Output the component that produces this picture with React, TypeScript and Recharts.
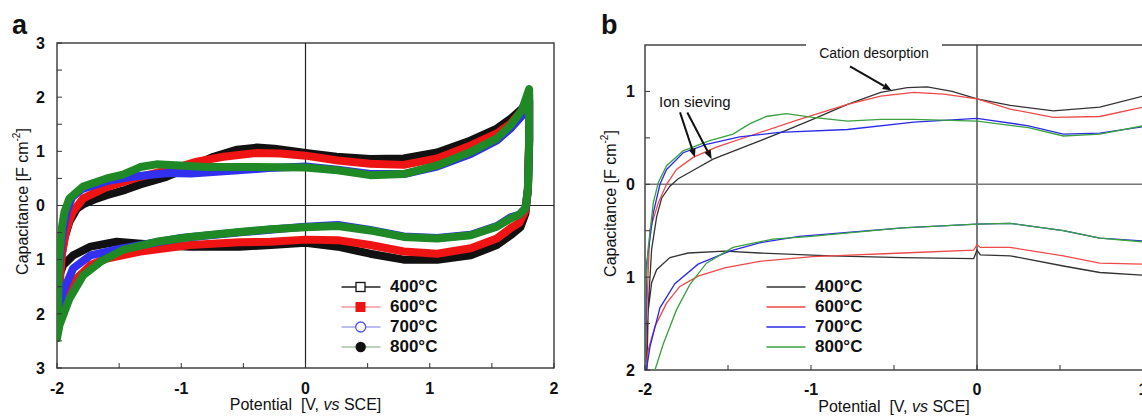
import React from 'react';
import { LineChart, Line, XAxis, YAxis, ReferenceLine, ReferenceArea } from 'recharts';

type Pt = [number, number];

const FONT = '"Liberation Sans", Arial, Helvetica, sans-serif';
const TEMPS = ['400°C', '600°C', '700°C', '800°C'];

// ---- panel a: CV loops (upper branch -> switch at 1.8 V -> lower branch back to -2 V)
const A_400: Pt[] = [
  [-1.99, -1.45], [-1.97, -1.0], [-1.94, -0.6], [-1.9, -0.3], [-1.84, -0.06], [-1.79, 0.02],
  [-1.7, 0.11], [-1.6, 0.19], [-1.45, 0.29], [-1.33, 0.39], [-1.12, 0.53], [-0.93, 0.71],
  [-0.74, 0.9], [-0.55, 1.03], [-0.39, 1.07], [-0.25, 1.05], [-0.1, 1.0], [0, 0.97],
  [0.25, 0.9], [0.52, 0.86], [0.79, 0.87], [1.06, 0.98], [1.33, 1.2], [1.54, 1.42],
  [1.65, 1.6], [1.74, 1.78], [1.8, 1.95],
  [1.8, 1.2], [1.79, 0.3], [1.77, -0.15], [1.73, -0.4], [1.65, -0.55],
  [1.54, -0.73], [1.33, -0.92], [1.06, -1.0], [0.79, -1.0], [0.52, -0.89], [0.26, -0.76],
  [0, -0.69], [-0.28, -0.73], [-0.53, -0.76], [-0.93, -0.76], [-1.2, -0.73], [-1.52, -0.67],
  [-1.73, -0.76], [-1.87, -0.92], [-1.95, -1.1], [-1.99, -1.35], [-2.0, -1.5], [-1.99, -1.45],
];
const A_600: Pt[] = [
  [-2.0, -2.1], [-1.98, -1.5], [-1.96, -0.9], [-1.93, -0.5], [-1.9, -0.27], [-1.87, -0.11],
  [-1.79, 0.13], [-1.6, 0.34], [-1.33, 0.53], [-1.06, 0.68], [-0.875, 0.81], [-0.66, 0.9],
  [-0.39, 0.97], [-0.2, 0.96], [0, 0.92], [0.26, 0.83], [0.52, 0.77], [0.79, 0.75],
  [1.06, 0.87], [1.33, 1.11], [1.54, 1.33], [1.65, 1.51], [1.74, 1.75], [1.8, 2.05],
  [1.8, 1.2], [1.79, 0.3], [1.77, -0.1], [1.72, -0.32], [1.65, -0.42],
  [1.54, -0.61], [1.33, -0.79], [1.06, -0.89], [0.79, -0.85], [0.52, -0.73], [0.26, -0.64],
  [0, -0.63], [-0.28, -0.67], [-0.53, -0.68], [-0.93, -0.73], [-1.33, -0.85], [-1.6, -0.98],
  [-1.73, -1.1], [-1.87, -1.41], [-1.95, -1.84], [-2.0, -2.1],
];
const A_700: Pt[] = [
  [-2.0, -2.05], [-1.99, -1.4], [-1.97, -0.8], [-1.95, -0.45], [-1.92, -0.1], [-1.88, 0.15],
  [-1.8, 0.3], [-1.6, 0.45], [-1.4, 0.53], [-1.1, 0.6], [-0.92, 0.59], [-0.6, 0.64],
  [-0.3, 0.69], [0, 0.72], [0.26, 0.66], [0.52, 0.58], [0.79, 0.58], [1.06, 0.72],
  [1.33, 0.95], [1.54, 1.2], [1.65, 1.42], [1.74, 1.65], [1.8, 1.95],
  [1.8, 1.1], [1.79, 0.3], [1.77, -0.05], [1.72, -0.17], [1.65, -0.22],
  [1.54, -0.38], [1.33, -0.54], [1.06, -0.6], [0.79, -0.57], [0.52, -0.45], [0.26, -0.36],
  [0, -0.39], [-0.5, -0.49], [-1.0, -0.6], [-1.3, -0.72], [-1.5, -0.8], [-1.73, -0.92],
  [-1.87, -1.16], [-1.95, -1.59], [-2.0, -2.05],
];
const A_800: Pt[] = [
  [-2.0, -2.45], [-1.99, -1.6], [-1.98, -0.9], [-1.96, -0.4], [-1.94, -0.12], [-1.9, 0.13],
  [-1.79, 0.35], [-1.6, 0.5], [-1.47, 0.57], [-1.33, 0.71], [-1.2, 0.76], [-1.01, 0.74],
  [-0.8, 0.71], [-0.4, 0.71], [0, 0.7], [0.26, 0.65], [0.52, 0.56], [0.79, 0.58],
  [1.06, 0.74], [1.33, 0.99], [1.54, 1.24], [1.65, 1.48], [1.74, 1.75], [1.8, 2.15],
  [1.8, 1.2], [1.79, 0.3], [1.77, -0.05], [1.72, -0.17], [1.65, -0.24],
  [1.54, -0.39], [1.33, -0.55], [1.06, -0.61], [0.79, -0.58], [0.52, -0.46], [0.26, -0.38],
  [0, -0.4], [-0.28, -0.44], [-0.53, -0.49], [-0.93, -0.58], [-1.2, -0.67], [-1.47, -0.82],
  [-1.65, -1.04], [-1.79, -1.29], [-1.9, -1.72], [-1.98, -2.21], [-2.0, -2.45],
];

// ---- panel b: thin CV loops, axis cut at 1 V
const B_400: Pt[] = [
  [-1.99, -2.1], [-1.98, -1.3], [-1.96, -0.7], [-1.93, -0.35], [-1.9, -0.15], [-1.85, -0.02],
  [-1.8, 0.06], [-1.73, 0.13], [-1.59, 0.27], [-1.39, 0.41], [-1.15, 0.58], [-0.99, 0.7],
  [-0.78, 0.86], [-0.58, 0.99], [-0.42, 1.04], [-0.3, 1.05], [-0.15, 1.0], [0, 0.92],
  [0.2, 0.85], [0.46, 0.79], [0.74, 0.83], [1.0, 0.95],
  [1.0, -0.98], [0.74, -0.95], [0.52, -0.88], [0.2, -0.77], [0.02, -0.76], [0, -0.71],
  [-0.02, -0.8], [-0.45, -0.79], [-0.88, -0.77], [-1.31, -0.74], [-1.52, -0.72], [-1.74, -0.74],
  [-1.85, -0.79], [-1.93, -0.92], [-1.96, -1.06], [-1.98, -1.35], [-1.99, -1.78], [-2.0, -2.1],
];
const B_600: Pt[] = [
  [-2.0, -2.1], [-1.99, -1.4], [-1.98, -0.9], [-1.97, -0.49], [-1.92, -0.2], [-1.87, 0],
  [-1.81, 0.16], [-1.71, 0.29], [-1.57, 0.4], [-1.37, 0.52], [-1.07, 0.7], [-0.78, 0.86],
  [-0.58, 0.95], [-0.38, 0.99], [-0.2, 0.97], [0, 0.92], [0.2, 0.81], [0.46, 0.72],
  [0.74, 0.73], [1.0, 0.83],
  [1.0, -0.86], [0.74, -0.85], [0.52, -0.77], [0.2, -0.68], [0.02, -0.68], [0, -0.65],
  [-0.02, -0.71], [-0.45, -0.74], [-0.99, -0.78], [-1.31, -0.83], [-1.52, -0.9], [-1.68, -0.99],
  [-1.79, -1.1], [-1.87, -1.28], [-1.94, -1.53], [-1.98, -1.78], [-2.0, -2.1],
];
const B_700: Pt[] = [
  [-2.0, -2.1], [-1.99, -0.85], [-1.95, -0.31], [-1.91, 0], [-1.87, 0.16], [-1.77, 0.34],
  [-1.63, 0.43], [-1.43, 0.51], [-1.19, 0.56], [-0.78, 0.59], [-0.38, 0.67], [-0.1, 0.7],
  [0, 0.71], [0.31, 0.63], [0.52, 0.54], [0.74, 0.55], [1.0, 0.62],
  [1.0, -0.61], [0.74, -0.58], [0.52, -0.5], [0.2, -0.42], [0, -0.43], [-0.45, -0.47],
  [-1.07, -0.56], [-1.31, -0.63], [-1.49, -0.72], [-1.68, -0.86], [-1.82, -1.07],
  [-1.91, -1.33], [-1.97, -1.75], [-2.0, -2.1],
];
const B_800: Pt[] = [
  [-2.0, -2.1], [-2.0, -1.2], [-1.98, -0.67], [-1.95, -0.2], [-1.92, 0.02], [-1.87, 0.2],
  [-1.77, 0.36], [-1.61, 0.47], [-1.47, 0.54], [-1.37, 0.65], [-1.27, 0.73], [-1.15, 0.76],
  [-0.99, 0.72], [-0.78, 0.68], [-0.58, 0.7], [-0.38, 0.7], [0, 0.68], [0.31, 0.61],
  [0.52, 0.52], [0.74, 0.54], [1.0, 0.63],
  [1.0, -0.62], [0.74, -0.58], [0.52, -0.5], [0.2, -0.42], [0, -0.43], [-0.45, -0.47],
  [-1.0, -0.56], [-1.23, -0.59], [-1.47, -0.68], [-1.63, -0.85], [-1.73, -1.08],
  [-1.81, -1.35], [-1.89, -1.72], [-1.94, -2.0], [-1.96, -2.15],
];

// ticks every 0.5, labels only on whole numbers
const A_X_TICKS = [-2, -1.5, -1, -0.5, 0, 0.5, 1, 1.5, 2];
const A_Y_TICKS = [-3, -2.5, -2, -1.5, -1, -0.5, 0, 0.5, 1, 1.5, 2, 2.5, 3];
const B_X_TICKS = [-2, -1.5, -1, -0.5, 0, 0.5, 1];
const B_Y_TICKS = [-2, -1.5, -1, -0.5, 0, 0.5, 1];

const A_SERIES = [
  { name: TEMPS[0], pts: A_400, color: '#111111' },
  { name: TEMPS[1], pts: A_600, color: '#ee1414' },
  { name: TEMPS[2], pts: A_700, color: '#3030ee' },
  { name: TEMPS[3], pts: A_800, color: '#1f8a25' },
];
const B_SERIES = [
  { name: TEMPS[0], pts: B_400, color: '#333333' },
  { name: TEMPS[1], pts: B_600, color: '#ee4848' },
  { name: TEMPS[2], pts: B_700, color: '#2a2ae6' },
  { name: TEMPS[3], pts: B_800, color: '#3aa040' },
];

const rows = (pts: Pt[]) => pts.map(([x, y]) => ({ x, y }));
const xFmt = (v: number) => (Number.isInteger(v) ? String(v) : '');
const yFmt = (v: number) => (Number.isInteger(v) ? String(Math.abs(v)) : '');
const tickStyle = { fontSize: 16, fontWeight: 'bold', fill: '#111', fontFamily: FONT };

const XTitle = (props: any) => {
  const vb = props.viewBox || {};
  return (
    <text x={vb.x + vb.width / 2} y={vb.y + 42} textAnchor="middle" fontSize={16} fontFamily={FONT} fill="#111">
      Potential{'\u00a0\u00a0'}[V, <tspan fontStyle="italic">vs</tspan> SCE]
    </text>
  );
};

const YTitle = (props: any) => {
  const vb = props.viewBox || {};
  const cx = vb.x + 10;
  const cy = vb.y + vb.height / 2 - 4;
  return (
    <text x={cx} y={cy} transform={`rotate(-90 ${cx} ${cy})`} textAnchor="middle" dominantBaseline="central"
      fontSize={16} fontFamily={FONT} fill="#111">
      Capacitance [F cm<tspan dy={-6} fontSize={10}>-2</tspan><tspan dy={6}>]</tspan>
    </text>
  );
};

const Arrow = (props: any) => {
  const { x1, y1, x2, y2 } = props;
  const ang = Math.atan2(y2 - y1, x2 - x1);
  const L = 9;
  const W = 3.5;
  const bx = x2 - L * Math.cos(ang);
  const by = y2 - L * Math.sin(ang);
  const pts = `${x2},${y2} ${bx - W * Math.sin(ang)},${by + W * Math.cos(ang)} ${bx + W * Math.sin(ang)},${by - W * Math.cos(ang)}`;
  return (
    <g>
      <line x1={x1} y1={y1} x2={bx} y2={by} stroke="#111" strokeWidth={2} />
      <polygon points={pts} fill="#111" />
    </g>
  );
};

// negative tickSize draws the tick marks inside the frame
const PanelA = () => (
  <LineChart width={580} height={417} margin={{ top: 43, right: 26, bottom: 9, left: 12 }}>
    <XAxis dataKey="x" type="number" domain={[-2, 2]} ticks={A_X_TICKS} interval={0} allowDataOverflow
      axisLine={false} tickLine={{ stroke: '#333' }} tickSize={-5} tickMargin={20} height={40} tick={tickStyle}
      tickFormatter={xFmt} label={(p: any) => <XTitle {...p} />} />
    <YAxis type="number" domain={[-3, 3]} ticks={A_Y_TICKS} interval={0} allowDataOverflow
      axisLine={false} tickLine={{ stroke: '#333' }} tickSize={-5} tickMargin={17} width={45} tick={tickStyle}
      tickFormatter={yFmt} label={(p: any) => <YTitle {...p} />} />
    <ReferenceArea x1={-2} x2={2} y1={-3} y2={3} fill="none" stroke="#444" strokeWidth={1.5} />
    <ReferenceLine x={0} stroke="#222" strokeWidth={1.2} />
    <ReferenceLine y={0} stroke="#222" strokeWidth={1.2} />
    {A_SERIES.map((s) => (
      <Line key={s.name} name={s.name} data={rows(s.pts)} dataKey="y" type="linear" stroke={s.color}
        strokeWidth={8} strokeLinejoin="round" strokeLinecap="round" dot={false} isAnimationActive={false} />
    ))}
  </LineChart>
);

const PanelB = () => (
  <LineChart width={600} height={417} margin={{ top: 45, right: 37, bottom: 7, left: 20 }}>
    <XAxis dataKey="x" type="number" domain={[-2, 1]} ticks={B_X_TICKS} interval={0} allowDataOverflow
      axisLine={false} tickLine={{ stroke: '#333' }} tickSize={-5} tickMargin={19} height={40} tick={tickStyle}
      tickFormatter={xFmt} label={(p: any) => <XTitle {...p} />} />
    <YAxis type="number" domain={[-2, 1.5]} ticks={B_Y_TICKS} interval={0} allowDataOverflow
      axisLine={false} tickLine={{ stroke: '#333' }} tickSize={-5} tickMargin={15} width={45} tick={tickStyle}
      tickFormatter={yFmt} label={(p: any) => <YTitle {...p} />} />
    <ReferenceArea x1={-2} x2={1} y1={-2} y2={1.5} fill="none" stroke="#444" strokeWidth={1.5} />
    <ReferenceLine x={0} stroke="#222" strokeWidth={1.2} />
    <ReferenceLine y={0} stroke="#777" strokeWidth={1.5} />
    {B_SERIES.map((s) => (
      <Line key={s.name} name={s.name} data={rows(s.pts)} dataKey="y" type="linear" stroke={s.color}
        strokeWidth={1.3} dot={false} isAnimationActive={false} />
    ))}
    <ReferenceLine segment={[{ x: -1.789, y: 0.774 }, { x: -1.699, y: 0.288 }]} shape={Arrow} />
    <ReferenceLine segment={[{ x: -1.745, y: 0.774 }, { x: -1.598, y: 0.27 }]} shape={Arrow} />
    <ReferenceLine segment={[{ x: -0.765, y: 1.27 }, { x: -0.514, y: 1.01 }]} shape={Arrow} />
  </LineChart>
);

const Marker = ({ kind }: { kind: number }) => {
  if (kind === 0) return <rect x={18} y={5.5} width={9} height={9} fill="#fff" stroke="#111" strokeWidth={1.3} />;
  if (kind === 1) return <rect x={17.5} y={5} width={10} height={10} fill="#ee1414" />;
  if (kind === 2) return <circle cx={22.7} cy={10} r={5} fill="#fff" stroke="#5555ee" strokeWidth={1.3} />;
  return <circle cx={22.7} cy={10} r={5.2} fill="#111" />;
};

const A_LEGEND_LINES = ['#222', '#f59a9a', '#a6a6ec', '#a9c2a9'];

const LegendBox = ({ left, lineColors, markers }: { left: number; lineColors: string[]; markers: boolean }) => (
  <div style={{ position: 'absolute', left, top: 277 }}>
    {TEMPS.map((t, i) => (
      <div key={t} style={{ display: 'flex', alignItems: 'center', height: 20 }}>
        <svg width={46} height={20} style={{ display: 'block' }}>
          <line x1={3.5} x2={42.5} y1={10} y2={10} stroke={lineColors[i]} strokeWidth={markers ? 1.6 : 1.5} />
          {markers && <Marker kind={i} />}
        </svg>
        <span style={{ marginLeft: 6, fontSize: 17, fontWeight: 'bold', lineHeight: '20px', color: '#111' }}>{t}</span>
      </div>
    ))}
  </div>
);

export default function App() {
  return (
    <div style={{ position: 'relative', width: 1142, height: 417, overflow: 'hidden', background: '#fff', fontFamily: FONT }}>
      <style>{'body{margin:0}'}</style>
      <div style={{ position: 'absolute', left: 0, top: 0 }}>
        <PanelA />
      </div>
      <div style={{ position: 'absolute', left: 580, top: 0 }}>
        <PanelB />
      </div>
      <div style={{ position: 'absolute', left: 12, top: 12, fontSize: 27, fontWeight: 'bold', lineHeight: '27px', color: '#111' }}>a</div>
      <div style={{ position: 'absolute', left: 601, top: 12, fontSize: 27, fontWeight: 'bold', lineHeight: '27px', color: '#111' }}>b</div>
      <LegendBox left={338} lineColors={A_LEGEND_LINES} markers />
      <LegendBox left={763} lineColors={B_SERIES.map((s) => s.color)} markers={false} />
      <div style={{ position: 'absolute', left: 659, top: 94, fontSize: 15, lineHeight: '15px', color: '#111', whiteSpace: 'nowrap' }}>
        Ion sieving
      </div>
      <div style={{ position: 'absolute', left: 806, top: 42, width: 136, height: 22, background: '#fff', textAlign: 'center',
        fontSize: 14, lineHeight: '22px', color: '#111', whiteSpace: 'nowrap' }}>
        Cation desorption
      </div>
    </div>
  );
}
